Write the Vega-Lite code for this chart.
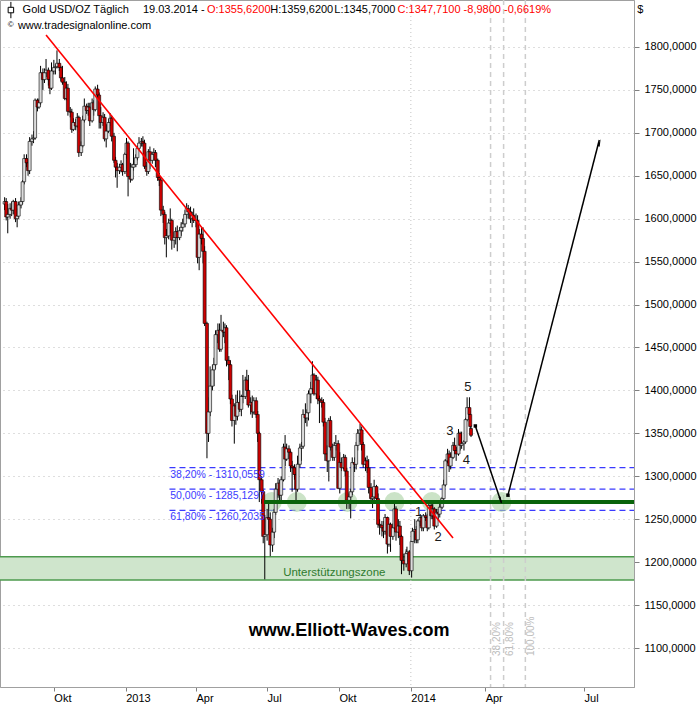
{
"$schema": "https://vega.github.io/schema/vega-lite/v6.json",
"width": 634,
"height": 687,
"autosize": {"type": "none"},
"padding": {"left": 0, "top": 0, "right": 66, "bottom": 19},
"background": "white",
"config": {"view": {"stroke": "#a0a0a0", "strokeWidth": 1}, "font": "Liberation Sans"},
"layer": [
{
"data": {"values": [{"d1": "2012-07-01", "d2": "2014-09-01", "lo": 1179.2, "hi": 1206.4}], "format": {"parse": {"d1": "date", "d2": "date"}}},
"mark": {"type": "rect", "fill": "#cfe5cc", "stroke": "#4e9a4e", "strokeWidth": 1.5, "clip": true},
"encoding": {
"x": {"field": "d1", "type": "quantitative", "title": null, "scale": {"domain": [1343606400000, 1395187200000, 1407628800000], "range": [0, 471, 634], "nice": false, "zero": false},
"axis": {"orient": "bottom", "title": null, "grid": false, "values": [1349049600000, 1356998400000, 1364774400000, 1372636800000, 1380585600000, 1388534400000, 1396310400000, 1404172800000],
"labelExpr": "utcmonth(datum.value)==0 ? utcFormat(datum.value,'%Y') : (utcmonth(datum.value)==3 ? 'Apr' : (utcmonth(datum.value)==6 ? 'Jul' : 'Okt'))",
"labelAlign": "left", "labelOffset": 0, "labelPadding": 1, "labelFontSize": 11, "labelColor": "#000000", "labelFont": "Liberation Sans", "labelOverlap": false, "labelFlush": false, "labelBound": false,
"tickSize": 4, "tickColor": "#808080", "domainColor": "#a0a0a0"}},
"x2": {"field": "d2"},
"y": {"field": "lo", "type": "quantitative", "title": null, "scale": {"domain": [1054.6, 1854.7], "zero": false, "nice": false},
"axis": {"orient": "right", "title": null, "values": [1100, 1150, 1200, 1250, 1300, 1350, 1400, 1450, 1500, 1550, 1600, 1650, 1700, 1750, 1800],
"labelExpr": "replace(format(datum.value,'.4f'),'.',',')", "labelFontSize": 11, "labelColor": "#000000", "labelFont": "Liberation Sans", "labelPadding": 5, "labelOverlap": false, "labelFlush": false, "labelBound": false,
"tickSize": 5, "tickColor": "#808080", "domainColor": "#a0a0a0",
"grid": true, "gridColor": "#bdbdbd", "gridDash": [1, 4], "gridWidth": 1}},
"y2": {"field": "hi"}
}
},
{
"data": {"values": [{"d": "2014-01-01"}], "format": {"parse": {"d": "date"}}},
"mark": {"type": "rule", "color": "#c4c4c4", "strokeDash": [1, 3], "strokeWidth": 1},
"encoding": {"x": {"field": "d", "type": "quantitative", "title": null, "scale": {"domain": [1343606400000, 1395187200000, 1407628800000], "range": [0, 471, 634], "nice": false, "zero": false}}}
},
{
"data": {"values": [{"d": "2014-04-06"}, {"d": "2014-04-18"}, {"d": "2014-05-08"}], "format": {"parse": {"d": "date"}}},
"mark": {"type": "rule", "color": "#cdcdcd", "strokeDash": [5, 4], "strokeWidth": 1.5},
"encoding": {"x": {"field": "d", "type": "quantitative", "title": null, "scale": {"domain": [1343606400000, 1395187200000, 1407628800000], "range": [0, 471, 634], "nice": false, "zero": false}}}
},
{
"data": {"values": [{"d": "2014-04-06", "p": 1090.7, "t": "38,20%"}, {"d": "2014-04-18", "p": 1090.7, "t": "61,80%"}, {"d": "2014-05-08", "p": 1090.7, "t": "100,00%"}], "format": {"parse": {"d": "date"}}},
"mark": {"type": "text", "angle": 270, "align": "left", "baseline": "top", "fontSize": 10, "color": "#bdbdbd", "dy": 1},
"encoding": {"x": {"field": "d", "type": "quantitative", "title": null, "scale": {"domain": [1343606400000, 1395187200000, 1407628800000], "range": [0, 471, 634], "nice": false, "zero": false}}, "y": {"field": "p", "type": "quantitative", "title": null, "scale": {"domain": [1054.6, 1854.7], "zero": false, "nice": false}}, "text": {"field": "t"}}
},
{
"data": {"values": [{"d1": "2013-02-26", "d2": "2014-09-01", "p": 1310.0559}, {"d1": "2013-02-26", "d2": "2014-09-01", "p": 1285.1297}, {"d1": "2013-02-26", "d2": "2014-09-01", "p": 1260.2035}], "format": {"parse": {"d1": "date", "d2": "date"}}},
"mark": {"type": "rule", "color": "#3a3aff", "strokeDash": [6, 4], "strokeWidth": 1.3, "clip": true},
"encoding": {"x": {"field": "d1", "type": "quantitative", "title": null, "scale": {"domain": [1343606400000, 1395187200000, 1407628800000], "range": [0, 471, 634], "nice": false, "zero": false}}, "x2": {"field": "d2"}, "y": {"field": "p", "type": "quantitative", "title": null, "scale": {"domain": [1054.6, 1854.7], "zero": false, "nice": false}}}
},
{
"data": {"values": [{"d": "2013-07-07", "p": 1270}, {"d": "2013-08-08", "p": 1270}, {"d": "2013-10-12", "p": 1270}, {"d": "2013-12-11", "p": 1270}, {"d": "2014-01-28", "p": 1270}, {"d": "2014-04-16", "p": 1270}], "format": {"parse": {"d": "date"}}},
"mark": {"type": "point", "shape": "circle", "filled": true, "size": 400, "color": "#a9d0a2", "opacity": 0.6},
"encoding": {"x": {"field": "d", "type": "quantitative", "title": null, "scale": {"domain": [1343606400000, 1395187200000, 1407628800000], "range": [0, 471, 634], "nice": false, "zero": false}}, "y": {"field": "p", "type": "quantitative", "title": null, "scale": {"domain": [1054.6, 1854.7], "zero": false, "nice": false}}}
},
{
"data": {"format": {"parse": {"d": "date"}}, "values": [
{"d":"2012-07-30","o":1617,"h":1625,"l":1610,"c":1620},{"d":"2012-08-01","o":1620,"h":1624,"l":1598,"c":1602},{"d":"2012-08-03","o":1602,"h":1617,"l":1583,"c":1605},
{"d":"2012-08-06","o":1605,"h":1618,"l":1600,"c":1612},{"d":"2012-08-08","o":1612,"h":1620,"l":1603,"c":1610},{"d":"2012-08-10","o":1610,"h":1622,"l":1605,"c":1620},
{"d":"2012-08-13","o":1620,"h":1624,"l":1596,"c":1600},{"d":"2012-08-15","o":1600,"h":1612,"l":1590,"c":1603},{"d":"2012-08-17","o":1603,"h":1620,"l":1600,"c":1616},
{"d":"2012-08-20","o":1616,"h":1625,"l":1612,"c":1620},{"d":"2012-08-22","o":1620,"h":1645,"l":1617,"c":1643},{"d":"2012-08-24","o":1643,"h":1675,"l":1640,"c":1670},
{"d":"2012-08-27","o":1670,"h":1675,"l":1660,"c":1665},{"d":"2012-08-29","o":1665,"h":1670,"l":1650,"c":1656},{"d":"2012-08-31","o":1656,"h":1695,"l":1652,"c":1690},
{"d":"2012-09-03","o":1690,"h":1698,"l":1685,"c":1693},{"d":"2012-09-05","o":1693,"h":1702,"l":1688,"c":1694},{"d":"2012-09-07","o":1694,"h":1740,"l":1692,"c":1738},
{"d":"2012-09-10","o":1738,"h":1740,"l":1725,"c":1730},{"d":"2012-09-12","o":1730,"h":1740,"l":1728,"c":1735},{"d":"2012-09-14","o":1735,"h":1778,"l":1732,"c":1770},
{"d":"2012-09-17","o":1770,"h":1775,"l":1750,"c":1762},{"d":"2012-09-19","o":1762,"h":1775,"l":1758,"c":1770},{"d":"2012-09-21","o":1770,"h":1786,"l":1765,"c":1773},
{"d":"2012-09-24","o":1773,"h":1776,"l":1755,"c":1762},{"d":"2012-09-26","o":1762,"h":1765,"l":1745,"c":1752},{"d":"2012-09-28","o":1752,"h":1782,"l":1750,"c":1772},
{"d":"2012-10-01","o":1772,"h":1785,"l":1768,"c":1776},{"d":"2012-10-03","o":1776,"h":1780,"l":1768,"c":1777},{"d":"2012-10-05","o":1777,"h":1796,"l":1775,"c":1781},
{"d":"2012-10-08","o":1781,"h":1786,"l":1772,"c":1776},{"d":"2012-10-10","o":1776,"h":1778,"l":1760,"c":1764},{"d":"2012-10-12","o":1764,"h":1778,"l":1756,"c":1759},
{"d":"2012-10-15","o":1759,"h":1765,"l":1738,"c":1740},{"d":"2012-10-17","o":1740,"h":1760,"l":1738,"c":1752},{"d":"2012-10-19","o":1752,"h":1757,"l":1720,"c":1725},
{"d":"2012-10-22","o":1725,"h":1730,"l":1718,"c":1724},{"d":"2012-10-24","o":1724,"h":1728,"l":1700,"c":1704},{"d":"2012-10-26","o":1704,"h":1717,"l":1702,"c":1712},
{"d":"2012-10-29","o":1712,"h":1716,"l":1703,"c":1708},{"d":"2012-10-31","o":1708,"h":1723,"l":1706,"c":1718},{"d":"2012-11-02","o":1718,"h":1720,"l":1672,"c":1677},
{"d":"2012-11-05","o":1677,"h":1690,"l":1673,"c":1685},{"d":"2012-11-07","o":1685,"h":1720,"l":1683,"c":1715},{"d":"2012-11-09","o":1715,"h":1740,"l":1712,"c":1731},
{"d":"2012-11-12","o":1731,"h":1734,"l":1722,"c":1726},{"d":"2012-11-14","o":1726,"h":1735,"l":1720,"c":1730},{"d":"2012-11-16","o":1730,"h":1735,"l":1708,"c":1714},
{"d":"2012-11-19","o":1714,"h":1740,"l":1712,"c":1735},{"d":"2012-11-21","o":1735,"h":1738,"l":1720,"c":1727},{"d":"2012-11-23","o":1727,"h":1754,"l":1725,"c":1751},
{"d":"2012-11-26","o":1751,"h":1756,"l":1740,"c":1744},{"d":"2012-11-28","o":1744,"h":1747,"l":1705,"c":1720},{"d":"2012-11-30","o":1720,"h":1730,"l":1705,"c":1712},
{"d":"2012-12-03","o":1712,"h":1724,"l":1708,"c":1718},{"d":"2012-12-05","o":1718,"h":1722,"l":1690,"c":1693},{"d":"2012-12-07","o":1693,"h":1710,"l":1683,"c":1702},
{"d":"2012-12-10","o":1702,"h":1716,"l":1700,"c":1712},{"d":"2012-12-12","o":1712,"h":1723,"l":1708,"c":1717},{"d":"2012-12-14","o":1717,"h":1720,"l":1690,"c":1696},
{"d":"2012-12-17","o":1696,"h":1700,"l":1665,"c":1668},{"d":"2012-12-19","o":1668,"h":1672,"l":1648,"c":1660},{"d":"2012-12-21","o":1660,"h":1665,"l":1636,"c":1656},
{"d":"2012-12-24","o":1656,"h":1664,"l":1652,"c":1660},{"d":"2012-12-26","o":1660,"h":1668,"l":1654,"c":1663},{"d":"2012-12-28","o":1663,"h":1665,"l":1650,"c":1655},
{"d":"2012-12-31","o":1655,"h":1677,"l":1652,"c":1675},{"d":"2013-01-02","o":1675,"h":1694,"l":1670,"c":1688},{"d":"2013-01-04","o":1688,"h":1690,"l":1626,"c":1649},
{"d":"2013-01-07","o":1649,"h":1665,"l":1642,"c":1646},{"d":"2013-01-09","o":1646,"h":1664,"l":1644,"c":1660},{"d":"2013-01-11","o":1660,"h":1682,"l":1656,"c":1663},
{"d":"2013-01-14","o":1663,"h":1675,"l":1660,"c":1671},{"d":"2013-01-16","o":1671,"h":1685,"l":1668,"c":1682},{"d":"2013-01-18","o":1682,"h":1695,"l":1680,"c":1688},
{"d":"2013-01-21","o":1688,"h":1694,"l":1684,"c":1690},{"d":"2013-01-23","o":1690,"h":1696,"l":1684,"c":1688},{"d":"2013-01-25","o":1688,"h":1692,"l":1658,"c":1661},
{"d":"2013-01-28","o":1661,"h":1666,"l":1650,"c":1655},{"d":"2013-01-30","o":1655,"h":1681,"l":1652,"c":1678},{"d":"2013-02-01","o":1678,"h":1684,"l":1658,"c":1668},
{"d":"2013-02-04","o":1668,"h":1678,"l":1664,"c":1675},{"d":"2013-02-06","o":1675,"h":1682,"l":1668,"c":1677},{"d":"2013-02-08","o":1677,"h":1680,"l":1660,"c":1668},
{"d":"2013-02-11","o":1668,"h":1670,"l":1644,"c":1648},{"d":"2013-02-13","o":1648,"h":1653,"l":1638,"c":1645},{"d":"2013-02-15","o":1645,"h":1648,"l":1603,"c":1610},
{"d":"2013-02-18","o":1610,"h":1615,"l":1595,"c":1605},{"d":"2013-02-20","o":1605,"h":1608,"l":1570,"c":1578},{"d":"2013-02-22","o":1578,"h":1588,"l":1555,"c":1580},
{"d":"2013-02-25","o":1580,"h":1600,"l":1576,"c":1595},{"d":"2013-02-27","o":1595,"h":1612,"l":1583,"c":1598},{"d":"2013-03-01","o":1598,"h":1600,"l":1564,"c":1575},
{"d":"2013-03-04","o":1575,"h":1585,"l":1566,"c":1578},{"d":"2013-03-06","o":1578,"h":1590,"l":1570,"c":1585},{"d":"2013-03-08","o":1585,"h":1592,"l":1562,"c":1578},
{"d":"2013-03-11","o":1578,"h":1590,"l":1575,"c":1586},{"d":"2013-03-13","o":1586,"h":1596,"l":1580,"c":1590},{"d":"2013-03-15","o":1590,"h":1600,"l":1585,"c":1594},
{"d":"2013-03-18","o":1594,"h":1610,"l":1590,"c":1605},{"d":"2013-03-20","o":1605,"h":1618,"l":1600,"c":1612},{"d":"2013-03-22","o":1612,"h":1616,"l":1600,"c":1608},
{"d":"2013-03-25","o":1608,"h":1614,"l":1595,"c":1600},{"d":"2013-03-27","o":1600,"h":1608,"l":1590,"c":1604},{"d":"2013-03-29","o":1604,"h":1612,"l":1595,"c":1598},
{"d":"2013-04-01","o":1598,"h":1606,"l":1590,"c":1598},{"d":"2013-04-03","o":1598,"h":1604,"l":1548,"c":1555},{"d":"2013-04-05","o":1555,"h":1588,"l":1540,"c":1582},
{"d":"2013-04-08","o":1582,"h":1590,"l":1570,"c":1577},{"d":"2013-04-10","o":1577,"h":1590,"l":1548,"c":1562},{"d":"2013-04-12","o":1562,"h":1568,"l":1475,"c":1478},
{"d":"2013-04-15","o":1478,"h":1480,"l":1321,"c":1350},{"d":"2013-04-17","o":1350,"h":1392,"l":1340,"c":1375},{"d":"2013-04-19","o":1375,"h":1428,"l":1370,"c":1405},
{"d":"2013-04-22","o":1405,"h":1430,"l":1400,"c":1424},{"d":"2013-04-24","o":1424,"h":1438,"l":1405,"c":1430},{"d":"2013-04-26","o":1430,"h":1470,"l":1425,"c":1465},
{"d":"2013-04-29","o":1465,"h":1478,"l":1455,"c":1470},{"d":"2013-05-01","o":1470,"h":1478,"l":1445,"c":1448},{"d":"2013-05-03","o":1448,"h":1488,"l":1445,"c":1470},
{"d":"2013-05-06","o":1470,"h":1480,"l":1462,"c":1468},{"d":"2013-05-08","o":1468,"h":1478,"l":1455,"c":1473},{"d":"2013-05-10","o":1473,"h":1476,"l":1428,"c":1435},
{"d":"2013-05-13","o":1435,"h":1440,"l":1412,"c":1430},{"d":"2013-05-15","o":1430,"h":1435,"l":1384,"c":1390},{"d":"2013-05-17","o":1390,"h":1395,"l":1358,"c":1365},
{"d":"2013-05-20","o":1365,"h":1385,"l":1338,"c":1382},{"d":"2013-05-22","o":1382,"h":1395,"l":1360,"c":1370},{"d":"2013-05-24","o":1370,"h":1400,"l":1365,"c":1386},
{"d":"2013-05-27","o":1386,"h":1400,"l":1375,"c":1378},{"d":"2013-05-29","o":1378,"h":1395,"l":1370,"c":1393},{"d":"2013-05-31","o":1393,"h":1418,"l":1385,"c":1393},
{"d":"2013-06-03","o":1393,"h":1416,"l":1390,"c":1412},{"d":"2013-06-05","o":1412,"h":1424,"l":1395,"c":1400},{"d":"2013-06-07","o":1400,"h":1418,"l":1380,"c":1383},
{"d":"2013-06-10","o":1383,"h":1392,"l":1372,"c":1386},{"d":"2013-06-12","o":1386,"h":1394,"l":1368,"c":1375},{"d":"2013-06-14","o":1375,"h":1392,"l":1372,"c":1388},
{"d":"2013-06-17","o":1388,"h":1392,"l":1368,"c":1372},{"d":"2013-06-19","o":1372,"h":1376,"l":1340,"c":1350},{"d":"2013-06-21","o":1350,"h":1352,"l":1270,"c":1296},
{"d":"2013-06-24","o":1296,"h":1300,"l":1268,"c":1282},{"d":"2013-06-26","o":1282,"h":1284,"l":1222,"c":1230},{"d":"2013-06-28","o":1230,"h":1255,"l":1180,"c":1232},
{"d":"2013-07-01","o":1232,"h":1262,"l":1225,"c":1252},{"d":"2013-07-03","o":1252,"h":1268,"l":1238,"c":1250},{"d":"2013-07-05","o":1250,"h":1258,"l":1207,"c":1220},
{"d":"2013-07-08","o":1220,"h":1240,"l":1212,"c":1235},{"d":"2013-07-10","o":1235,"h":1262,"l":1228,"c":1258},{"d":"2013-07-12","o":1258,"h":1292,"l":1255,"c":1285},
{"d":"2013-07-15","o":1285,"h":1298,"l":1275,"c":1292},{"d":"2013-07-17","o":1292,"h":1296,"l":1272,"c":1278},{"d":"2013-07-19","o":1278,"h":1300,"l":1272,"c":1296},
{"d":"2013-07-22","o":1296,"h":1338,"l":1294,"c":1334},{"d":"2013-07-24","o":1334,"h":1348,"l":1312,"c":1320},{"d":"2013-07-26","o":1320,"h":1338,"l":1318,"c":1332},
{"d":"2013-07-29","o":1332,"h":1336,"l":1320,"c":1328},{"d":"2013-07-31","o":1328,"h":1330,"l":1305,"c":1312},{"d":"2013-08-02","o":1312,"h":1318,"l":1282,"c":1310},
{"d":"2013-08-05","o":1310,"h":1314,"l":1296,"c":1302},{"d":"2013-08-07","o":1302,"h":1305,"l":1272,"c":1285},{"d":"2013-08-09","o":1285,"h":1324,"l":1282,"c":1314},
{"d":"2013-08-12","o":1314,"h":1338,"l":1310,"c":1333},{"d":"2013-08-14","o":1333,"h":1340,"l":1318,"c":1335},{"d":"2013-08-16","o":1335,"h":1378,"l":1332,"c":1372},
{"d":"2013-08-19","o":1372,"h":1385,"l":1362,"c":1368},{"d":"2013-08-21","o":1368,"h":1378,"l":1358,"c":1374},{"d":"2013-08-23","o":1374,"h":1400,"l":1365,"c":1396},
{"d":"2013-08-26","o":1396,"h":1410,"l":1385,"c":1402},{"d":"2013-08-28","o":1402,"h":1434,"l":1398,"c":1418},{"d":"2013-08-30","o":1418,"h":1420,"l":1394,"c":1396},
{"d":"2013-09-02","o":1396,"h":1418,"l":1390,"c":1412},{"d":"2013-09-04","o":1412,"h":1416,"l":1384,"c":1390},{"d":"2013-09-06","o":1390,"h":1394,"l":1362,"c":1388},
{"d":"2013-09-09","o":1388,"h":1392,"l":1380,"c":1386},{"d":"2013-09-11","o":1386,"h":1390,"l":1358,"c":1363},{"d":"2013-09-13","o":1363,"h":1368,"l":1318,"c":1326},
{"d":"2013-09-16","o":1326,"h":1336,"l":1305,"c":1318},{"d":"2013-09-18","o":1318,"h":1368,"l":1294,"c":1365},{"d":"2013-09-20","o":1365,"h":1370,"l":1330,"c":1334},
{"d":"2013-09-23","o":1334,"h":1338,"l":1318,"c":1322},{"d":"2013-09-25","o":1322,"h":1340,"l":1318,"c":1336},{"d":"2013-09-27","o":1336,"h":1348,"l":1330,"c":1338},
{"d":"2013-09-30","o":1338,"h":1342,"l":1285,"c":1286},{"d":"2013-10-02","o":1286,"h":1328,"l":1280,"c":1316},{"d":"2013-10-04","o":1316,"h":1322,"l":1306,"c":1310},
{"d":"2013-10-07","o":1310,"h":1326,"l":1308,"c":1322},{"d":"2013-10-09","o":1322,"h":1325,"l":1300,"c":1306},{"d":"2013-10-11","o":1306,"h":1310,"l":1262,"c":1272},
{"d":"2013-10-14","o":1272,"h":1280,"l":1262,"c":1276},{"d":"2013-10-16","o":1276,"h":1285,"l":1251,"c":1282},{"d":"2013-10-18","o":1282,"h":1322,"l":1278,"c":1316},
{"d":"2013-10-21","o":1316,"h":1322,"l":1305,"c":1314},{"d":"2013-10-23","o":1314,"h":1340,"l":1308,"c":1336},{"d":"2013-10-25","o":1336,"h":1355,"l":1330,"c":1350},
{"d":"2013-10-28","o":1350,"h":1361,"l":1340,"c":1354},{"d":"2013-10-30","o":1354,"h":1358,"l":1330,"c":1337},{"d":"2013-11-01","o":1337,"h":1340,"l":1310,"c":1314},
{"d":"2013-11-04","o":1314,"h":1322,"l":1306,"c":1318},{"d":"2013-11-06","o":1318,"h":1324,"l":1304,"c":1310},{"d":"2013-11-08","o":1310,"h":1320,"l":1280,"c":1287},
{"d":"2013-11-11","o":1287,"h":1292,"l":1270,"c":1274},{"d":"2013-11-13","o":1274,"h":1280,"l":1263,"c":1276},{"d":"2013-11-15","o":1276,"h":1296,"l":1272,"c":1288},
{"d":"2013-11-18","o":1288,"h":1290,"l":1270,"c":1274},{"d":"2013-11-20","o":1274,"h":1280,"l":1240,"c":1244},{"d":"2013-11-22","o":1244,"h":1250,"l":1232,"c":1243},
{"d":"2013-11-25","o":1243,"h":1248,"l":1230,"c":1240},{"d":"2013-11-27","o":1240,"h":1248,"l":1228,"c":1236},{"d":"2013-11-29","o":1236,"h":1256,"l":1232,"c":1252},
{"d":"2013-12-02","o":1252,"h":1253,"l":1210,"c":1221},{"d":"2013-12-04","o":1221,"h":1245,"l":1218,"c":1244},{"d":"2013-12-06","o":1244,"h":1246,"l":1212,"c":1230},
{"d":"2013-12-09","o":1230,"h":1245,"l":1226,"c":1240},{"d":"2013-12-11","o":1240,"h":1268,"l":1238,"c":1262},{"d":"2013-12-13","o":1262,"h":1265,"l":1225,"c":1235},
{"d":"2013-12-16","o":1235,"h":1250,"l":1228,"c":1242},{"d":"2013-12-18","o":1242,"h":1248,"l":1220,"c":1230},{"d":"2013-12-20","o":1230,"h":1232,"l":1186,"c":1202},
{"d":"2013-12-23","o":1202,"h":1210,"l":1190,"c":1198},{"d":"2013-12-26","o":1198,"h":1215,"l":1194,"c":1210},{"d":"2013-12-27","o":1210,"h":1218,"l":1200,"c":1212},
{"d":"2013-12-30","o":1212,"h":1214,"l":1185,"c":1190},{"d":"2014-01-02","o":1190,"h":1230,"l":1182,"c":1224},{"d":"2014-01-03","o":1224,"h":1240,"l":1220,"c":1236},
{"d":"2014-01-06","o":1236,"h":1250,"l":1222,"c":1238},{"d":"2014-01-08","o":1238,"h":1242,"l":1222,"c":1226},{"d":"2014-01-10","o":1226,"h":1250,"l":1222,"c":1248},
{"d":"2014-01-13","o":1248,"h":1256,"l":1242,"c":1252},{"d":"2014-01-15","o":1252,"h":1254,"l":1236,"c":1240},{"d":"2014-01-17","o":1240,"h":1256,"l":1236,"c":1254},
{"d":"2014-01-20","o":1254,"h":1258,"l":1248,"c":1252},{"d":"2014-01-22","o":1252,"h":1256,"l":1236,"c":1240},{"d":"2014-01-24","o":1240,"h":1270,"l":1238,"c":1266},
{"d":"2014-01-27","o":1266,"h":1272,"l":1250,"c":1254},{"d":"2014-01-29","o":1254,"h":1268,"l":1250,"c":1262},{"d":"2014-01-31","o":1262,"h":1264,"l":1238,"c":1242},
{"d":"2014-02-03","o":1242,"h":1262,"l":1240,"c":1258},{"d":"2014-02-05","o":1258,"h":1262,"l":1248,"c":1256},{"d":"2014-02-07","o":1256,"h":1270,"l":1252,"c":1264},
{"d":"2014-02-10","o":1264,"h":1276,"l":1262,"c":1274},{"d":"2014-02-12","o":1274,"h":1296,"l":1272,"c":1290},{"d":"2014-02-14","o":1290,"h":1320,"l":1288,"c":1318},
{"d":"2014-02-17","o":1318,"h":1332,"l":1315,"c":1326},{"d":"2014-02-19","o":1326,"h":1330,"l":1305,"c":1312},{"d":"2014-02-21","o":1312,"h":1328,"l":1308,"c":1322},
{"d":"2014-02-24","o":1322,"h":1340,"l":1320,"c":1336},{"d":"2014-02-26","o":1336,"h":1345,"l":1326,"c":1330},{"d":"2014-02-28","o":1330,"h":1334,"l":1318,"c":1326},
{"d":"2014-03-03","o":1326,"h":1355,"l":1324,"c":1350},{"d":"2014-03-05","o":1350,"h":1352,"l":1330,"c":1336},{"d":"2014-03-07","o":1336,"h":1352,"l":1332,"c":1338},
{"d":"2014-03-10","o":1338,"h":1342,"l":1330,"c":1340},{"d":"2014-03-12","o":1340,"h":1368,"l":1338,"c":1366},{"d":"2014-03-14","o":1366,"h":1392,"l":1364,"c":1380},
{"d":"2014-03-17","o":1380,"h":1392,"l":1366,"c":1372},{"d":"2014-03-18","o":1372,"h":1376,"l":1355,"c":1358},{"d":"2014-03-19","o":1355.62,"h":1359.62,"l":1345.7,"c":1347.71}
]},
"layer": [
{"mark": {"type": "rule", "color": "#000000", "strokeWidth": 1, "clip": true},
"encoding": {"x": {"field": "d", "type": "quantitative", "title": null, "scale": {"domain": [1343606400000, 1395187200000, 1407628800000], "range": [0, 471, 634], "nice": false, "zero": false}}, "y": {"field": "l", "type": "quantitative", "title": null, "scale": {"domain": [1054.6, 1854.7], "zero": false, "nice": false}}, "y2": {"field": "h"}}},
{"mark": {"type": "bar", "size": 3, "stroke": "#000000", "strokeWidth": 0.6, "clip": true},
"encoding": {"x": {"field": "d", "type": "quantitative", "title": null, "scale": {"domain": [1343606400000, 1395187200000, 1407628800000], "range": [0, 471, 634], "nice": false, "zero": false}}, "y": {"field": "o", "type": "quantitative", "title": null, "scale": {"domain": [1054.6, 1854.7], "zero": false, "nice": false}}, "y2": {"field": "c"},
"color": {"condition": {"test": "datum.c >= datum.o", "value": "#dcdcdc"}, "value": "#cc0000"}}}
]
},
{
"data": {"values": [{"d1": "2013-06-27", "d2": "2014-09-01", "p": 1270}], "format": {"parse": {"d1": "date", "d2": "date"}}},
"mark": {"type": "rule", "color": "#0a640a", "strokeWidth": 4, "clip": true},
"encoding": {"x": {"field": "d1", "type": "quantitative", "title": null, "scale": {"domain": [1343606400000, 1395187200000, 1407628800000], "range": [0, 471, 634], "nice": false, "zero": false}}, "x2": {"field": "d2"}, "y": {"field": "p", "type": "quantitative", "title": null, "scale": {"domain": [1054.6, 1854.7], "zero": false, "nice": false}}}
},
{
"data": {"values": [{"d1": "2012-09-21", "p1": 1814, "d2": "2014-02-24", "p2": 1228}], "format": {"parse": {"d1": "date", "d2": "date"}}},
"mark": {"type": "rule", "color": "#ff0000", "strokeWidth": 1.6},
"encoding": {"x": {"field": "d1", "type": "quantitative", "title": null, "scale": {"domain": [1343606400000, 1395187200000, 1407628800000], "range": [0, 471, 634], "nice": false, "zero": false}}, "x2": {"field": "d2"}, "y": {"field": "p1", "type": "quantitative", "title": null, "scale": {"domain": [1054.6, 1854.7], "zero": false, "nice": false}}, "y2": {"field": "p2"}}
},
{
"data": {"values": [{"d1": "2014-03-23", "p1": 1358.6, "d2": "2014-04-16", "p2": 1269}, {"d1": "2014-04-22", "p1": 1278, "d2": "2014-07-15", "p2": 1691.7}], "format": {"parse": {"d1": "date", "d2": "date"}}},
"mark": {"type": "rule", "color": "#000000", "strokeWidth": 1.5},
"encoding": {"x": {"field": "d1", "type": "quantitative", "title": null, "scale": {"domain": [1343606400000, 1395187200000, 1407628800000], "range": [0, 471, 634], "nice": false, "zero": false}}, "x2": {"field": "d2"}, "y": {"field": "p1", "type": "quantitative", "title": null, "scale": {"domain": [1054.6, 1854.7], "zero": false, "nice": false}}, "y2": {"field": "p2"}}
},
{
"data": {"values": [{"d": "2014-03-23", "p": 1358.6}, {"d": "2014-04-22", "p": 1278}], "format": {"parse": {"d": "date"}}},
"mark": {"type": "point", "shape": "square", "filled": true, "size": 12, "color": "#000000", "opacity": 1},
"encoding": {"x": {"field": "d", "type": "quantitative", "title": null, "scale": {"domain": [1343606400000, 1395187200000, 1407628800000], "range": [0, 471, 634], "nice": false, "zero": false}}, "y": {"field": "p", "type": "quantitative", "title": null, "scale": {"domain": [1054.6, 1854.7], "zero": false, "nice": false}}}
},
{
"data": {"values": [{"d": "2014-04-15", "p": 1273.3}], "format": {"parse": {"d": "date"}}},
"mark": {"type": "point", "shape": "wedge", "filled": true, "size": 80, "color": "#000000", "opacity": 1, "angle": 161},
"encoding": {"x": {"field": "d", "type": "quantitative", "title": null, "scale": {"domain": [1343606400000, 1395187200000, 1407628800000], "range": [0, 471, 634], "nice": false, "zero": false}}, "y": {"field": "p", "type": "quantitative", "title": null, "scale": {"domain": [1054.6, 1854.7], "zero": false, "nice": false}}}
},
{
"data": {"values": [{"d": "2014-07-15", "p": 1687.1}], "format": {"parse": {"d": "date"}}},
"mark": {"type": "point", "shape": "wedge", "filled": true, "size": 80, "color": "#000000", "opacity": 1, "angle": 15},
"encoding": {"x": {"field": "d", "type": "quantitative", "title": null, "scale": {"domain": [1343606400000, 1395187200000, 1407628800000], "range": [0, 471, 634], "nice": false, "zero": false}}, "y": {"field": "p", "type": "quantitative", "title": null, "scale": {"domain": [1054.6, 1854.7], "zero": false, "nice": false}}}
},
{
"data": {"values": [{"d": "2013-02-27", "p": 1310.0559, "t": "38,20% - 1310,0559"}, {"d": "2013-02-27", "p": 1285.1297, "t": "50,00% - 1285,1297"}, {"d": "2013-02-27", "p": 1260.2035, "t": "61,80% - 1260,2035"}], "format": {"parse": {"d": "date"}}},
"mark": {"type": "text", "align": "left", "baseline": "top", "dy": 2, "fontSize": 10.5, "color": "#3a3aff"},
"encoding": {"x": {"field": "d", "type": "quantitative", "title": null, "scale": {"domain": [1343606400000, 1395187200000, 1407628800000], "range": [0, 471, 634], "nice": false, "zero": false}}, "y": {"field": "p", "type": "quantitative", "title": null, "scale": {"domain": [1054.6, 1854.7], "zero": false, "nice": false}}, "text": {"field": "t"}}
},
{
"data": {"values": [{"d": "2013-09-25", "p": 1187.4, "t": "Unterstützungszone"}], "format": {"parse": {"d": "date"}}},
"mark": {"type": "text", "align": "center", "baseline": "middle", "fontSize": 11.5, "color": "#2e7a2e"},
"encoding": {"x": {"field": "d", "type": "quantitative", "title": null, "scale": {"domain": [1343606400000, 1395187200000, 1407628800000], "range": [0, 471, 634], "nice": false, "zero": false}}, "y": {"field": "p", "type": "quantitative", "title": null, "scale": {"domain": [1054.6, 1854.7], "zero": false, "nice": false}}, "text": {"field": "t"}}
},
{
"data": {"values": [{"d": "2013-10-14", "p": 1119.8, "t": "www.Elliott-Waves.com"}], "format": {"parse": {"d": "date"}}},
"mark": {"type": "text", "align": "center", "baseline": "middle", "fontSize": 18, "fontWeight": "bold", "color": "#000000"},
"encoding": {"x": {"field": "d", "type": "quantitative", "title": null, "scale": {"domain": [1343606400000, 1395187200000, 1407628800000], "range": [0, 471, 634], "nice": false, "zero": false}}, "y": {"field": "p", "type": "quantitative", "title": null, "scale": {"domain": [1054.6, 1854.7], "zero": false, "nice": false}}, "text": {"field": "t"}}
},
{
"data": {"values": [{"d": "2014-01-11", "p": 1258.4, "t": "1"}, {"d": "2014-02-05", "p": 1229.3, "t": "2"}, {"d": "2014-02-20", "p": 1352.8, "t": "3"}, {"d": "2014-03-13", "p": 1319, "t": "4"}, {"d": "2014-03-15", "p": 1404, "t": "5"}], "format": {"parse": {"d": "date"}}},
"mark": {"type": "text", "align": "center", "baseline": "middle", "fontSize": 13, "color": "#1a1a1a"},
"encoding": {"x": {"field": "d", "type": "quantitative", "title": null, "scale": {"domain": [1343606400000, 1395187200000, 1407628800000], "range": [0, 471, 634], "nice": false, "zero": false}}, "y": {"field": "p", "type": "quantitative", "title": null, "scale": {"domain": [1054.6, 1854.7], "zero": false, "nice": false}}, "text": {"field": "t"}}
},
{
"data": {"values": [{"d": "2012-08-07", "p1": 1852.5, "p2": 1833.5}], "format": {"parse": {"d": "date"}}},
"mark": {"type": "rule", "color": "#000000", "strokeWidth": 1},
"encoding": {"x": {"field": "d", "type": "quantitative", "title": null, "scale": {"domain": [1343606400000, 1395187200000, 1407628800000], "range": [0, 471, 634], "nice": false, "zero": false}}, "y": {"field": "p1", "type": "quantitative", "title": null, "scale": {"domain": [1054.6, 1854.7], "zero": false, "nice": false}}, "y2": {"field": "p2"}}
},
{
"data": {"values": [{"d": "2012-08-07", "p": 1843}], "format": {"parse": {"d": "date"}}},
"mark": {"type": "point", "shape": "square", "filled": true, "size": 30, "color": "#ffffff", "stroke": "#000000", "strokeWidth": 1, "opacity": 1},
"encoding": {"x": {"field": "d", "type": "quantitative", "title": null, "scale": {"domain": [1343606400000, 1395187200000, 1407628800000], "range": [0, 471, 634], "nice": false, "zero": false}}, "y": {"field": "p", "type": "quantitative", "title": null, "scale": {"domain": [1054.6, 1854.7], "zero": false, "nice": false}}}
},
{
"data": {"values": [{"d": "2012-08-22", "p": 1843, "t": "Gold USD/OZ Täglich"}, {"d": "2013-01-23", "p": 1843, "t": "19.03.2014 -"}, {"d": "2013-07-05", "p": 1843, "t": "H:1359,6200"}, {"d": "2013-09-25", "p": 1843, "t": "L:1345,7000"}, {"d": "2012-08-16", "p": 1824.5, "t": "www.tradesignalonline.com"}, {"d": "2014-08-19", "p": 1843, "t": "$"}], "format": {"parse": {"d": "date"}}},
"mark": {"type": "text", "align": "left", "baseline": "middle", "fontSize": 11, "color": "#000000"},
"encoding": {"x": {"field": "d", "type": "quantitative", "title": null, "scale": {"domain": [1343606400000, 1395187200000, 1407628800000], "range": [0, 471, 634], "nice": false, "zero": false}}, "y": {"field": "p", "type": "quantitative", "title": null, "scale": {"domain": [1054.6, 1854.7], "zero": false, "nice": false}}, "text": {"field": "t"}}
},
{
"data": {"values": [{"d": "2012-08-03", "p": 1826, "t": "©"}], "format": {"parse": {"d": "date"}}},
"mark": {"type": "text", "align": "left", "baseline": "middle", "fontSize": 8, "color": "#000000"},
"encoding": {"x": {"field": "d", "type": "quantitative", "title": null, "scale": {"domain": [1343606400000, 1395187200000, 1407628800000], "range": [0, 471, 634], "nice": false, "zero": false}}, "y": {"field": "p", "type": "quantitative", "title": null, "scale": {"domain": [1054.6, 1854.7], "zero": false, "nice": false}}, "text": {"field": "t"}}
},
{
"data": {"values": [{"d": "2013-04-15", "p": 1843, "t": "O:1355,6200"}, {"d": "2013-12-15", "p": 1843, "t": "C:1347,7100 -8,9800 -0,6619%"}], "format": {"parse": {"d": "date"}}},
"mark": {"type": "text", "align": "left", "baseline": "middle", "fontSize": 11, "color": "#ff0000"},
"encoding": {"x": {"field": "d", "type": "quantitative", "title": null, "scale": {"domain": [1343606400000, 1395187200000, 1407628800000], "range": [0, 471, 634], "nice": false, "zero": false}}, "y": {"field": "p", "type": "quantitative", "title": null, "scale": {"domain": [1054.6, 1854.7], "zero": false, "nice": false}}, "text": {"field": "t"}}
}
]
}
